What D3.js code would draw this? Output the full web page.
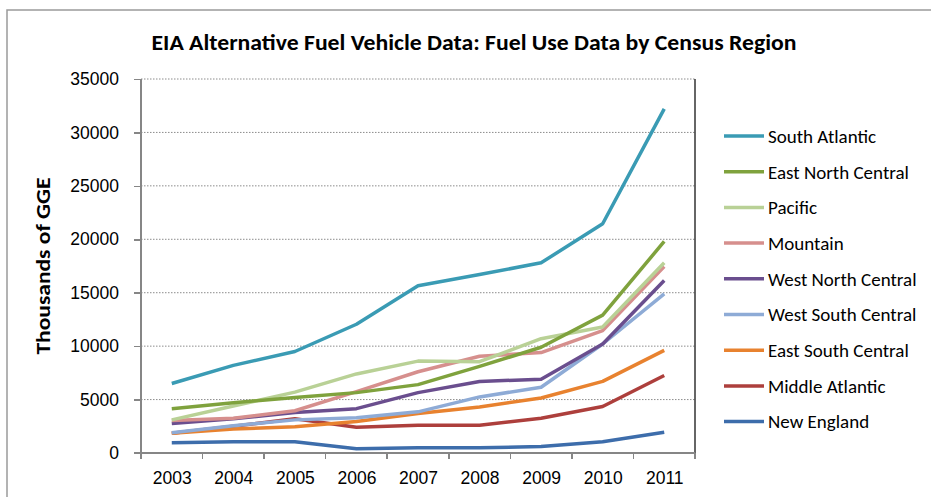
<!DOCTYPE html>
<meta charset="utf-8">
<style>
    body { margin: 0; background: #fff; }
    svg { display: block; font-family: Carlito, Calibri, Lato, sans-serif; }
    .grid line { stroke: #8c8c8c; stroke-dasharray: 1.5 1.5; }
    .axis path, .axis line { stroke: #868686; stroke-width: 1.5; shape-rendering: crispEdges; }
    .axis text { font-size: 17.5px; fill: #000; }
</style>
<body>
<script src="https://cdnjs.cloudflare.com/ajax/libs/d3/7.8.5/d3.min.js"></script>
<script>
    // years on the x axis
    var years = ["2003", "2004", "2005", "2006", "2007", "2008", "2009", "2010", "2011"];
    var regions = ["South Atlantic", "East North Central", "Pacific", "Mountain", "West North Central",
        "West South Central", "East South Central", "Middle Atlantic", "New England"];
    var colors = ["#3a9bb4", "#7fa23d", "#b9d196", "#d68f8d", "#6a4e8e", "#8eabd6", "#e8822f", "#ad3f3c", "#3d6dab"];
    var yTicks = [0, 5000, 10000, 15000, 20000, 25000, 30000, 35000];

    // thousands of GGE
    var southAtlantic     = [6500, 8200, 9500, 12050, 15650, 16700, 17800, 21450, 32200];
    var eastNorthCentral  = [4150, 4700, 5200, 5650, 6400, 8100, 9900, 12900, 19800];
    var pacific           = [3100, 4400, 5700, 7400, 8600, 8550, 10700, 11800, 17800];
    var mountain          = [3050, 3250, 3950, 5750, 7600, 9050, 9400, 11450, 17450];
    var westNorthCentral  = [2750, 3200, 3800, 4150, 5650, 6700, 6900, 10200, 16150];
    var westSouthCentral  = [1900, 2550, 3100, 3300, 3850, 5250, 6150, 10200, 14900];
    var eastSouthCentral  = [1850, 2250, 2450, 2950, 3700, 4300, 5150, 6700, 9600];
    var middleAtlantic    = [1850, 2500, 3200, 2400, 2600, 2600, 3250, 4350, 7250];
    var newEngland        = [950, 1050, 1050, 400, 500, 500, 600, 1050, 1950];

    var seriesValues = [southAtlantic, eastNorthCentral, pacific, mountain, westNorthCentral,
        westSouthCentral, eastSouthCentral, middleAtlantic, newEngland];

    var width = 931, height = 497;
    var plot = {left: 141, top: 79, right: 695, bottom: 453};

    var svg = d3.select("body").append("svg")
        .attr("width", width)
        .attr("height", height);

    // outer chart frame (runs off the right and bottom edges)
    svg.append("rect")
        .attr("x", 7).attr("y", 10)
        .attr("width", width + 10).attr("height", height + 10)
        .attr("fill", "#fff")
        .attr("stroke", "#9a9a9a")
        .attr("stroke-width", 1.5);

    var x = d3.scalePoint()
        .domain(years)
        .range([plot.left, plot.right])
        .padding(0.5);
    var xBand = d3.scaleBand()
        .domain(years)
        .range([plot.left, plot.right]);
    var y = d3.scaleLinear()
        .domain([0, 35000])
        .range([plot.bottom, plot.top]);

    // gridlines
    svg.append("g")
        .attr("class", "grid")
        .selectAll("line")
        .data(yTicks.slice(1))
        .enter().append("line")
        .attr("x1", plot.left).attr("x2", plot.right)
        .attr("y1", d => y(d)).attr("y2", d => y(d))
        .attr("stroke", d => d === 35000 ? "#555" : null);

    // right edge of plot area
    svg.append("line")
        .attr("x1", plot.right).attr("x2", plot.right)
        .attr("y1", plot.top).attr("y2", plot.bottom)
        .attr("stroke", "#333").attr("stroke-width", 1.5);

    // y axis
    var yAxis = d3.axisLeft(y)
        .tickValues(yTicks)
        .tickFormat(d3.format("d"))
        .tickSize(7)
        .tickPadding(15);
    svg.append("g")
        .attr("class", "axis")
        .attr("transform", "translate(" + plot.left + ",0)")
        .call(yAxis)
        .call(g => g.select(".domain").attr("d", "M0," + plot.top + "V" + (plot.bottom + 5)));

    // x axis, ticks between categories
    var xAxis = d3.axisBottom(x).tickSize(0).tickPadding(19);
    var gx = svg.append("g")
        .attr("class", "axis")
        .attr("transform", "translate(0," + plot.bottom + ")")
        .call(xAxis);
    gx.select(".domain").attr("d", "M" + (plot.left - 7) + ",0H" + plot.right);
    gx.selectAll(".sep")
        .data(years.concat(["end"]))
        .enter().append("line")
        .attr("class", "sep")
        .attr("x1", (d, i) => plot.left + i * xBand.step())
        .attr("x2", (d, i) => plot.left + i * xBand.step())
        .attr("y1", 0).attr("y2", 6);

    // lines
    var line = d3.line()
        .x((d, i) => x(years[i]))
        .y(d => y(d));
    svg.append("g")
        .selectAll("path")
        .data(seriesValues.slice().reverse())
        .enter().append("path")
        .attr("d", line)
        .attr("fill", "none")
        .attr("stroke", (d, i) => colors[colors.length - 1 - i])
        .attr("stroke-width", 3.5)
        .attr("stroke-linejoin", "round");

    // title
    svg.append("text")
        .attr("x", 474).attr("y", 50)
        .attr("text-anchor", "middle")
        .attr("font-size", 22)
        .attr("font-weight", "bold")
        .attr("textLength", 645)
        .attr("lengthAdjust", "spacingAndGlyphs")
        .text("EIA Alternative Fuel Vehicle Data: Fuel Use Data by Census Region");

    // y axis title
    svg.append("text")
        .attr("transform", "translate(50," + ((plot.top + plot.bottom) / 2) + ") rotate(-90)")
        .attr("text-anchor", "middle")
        .attr("font-size", 21)
        .attr("font-weight", "bold")
        .attr("textLength", 177)
        .attr("lengthAdjust", "spacingAndGlyphs")
        .text("Thousands of GGE");

    // legend
    var legend = svg.append("g")
        .selectAll("g")
        .data(regions)
        .enter().append("g")
        .attr("transform", (d, i) => "translate(724," + (136 + i * 35.7) + ")");
    legend.append("line")
        .attr("x1", 0).attr("x2", 40)
        .attr("stroke", (d, i) => colors[i])
        .attr("stroke-width", 3.5);
    legend.append("text")
        .attr("x", 44).attr("dy", "0.36em")
        .attr("font-size", 19)
        .text(d => d);
</script>
</body>
